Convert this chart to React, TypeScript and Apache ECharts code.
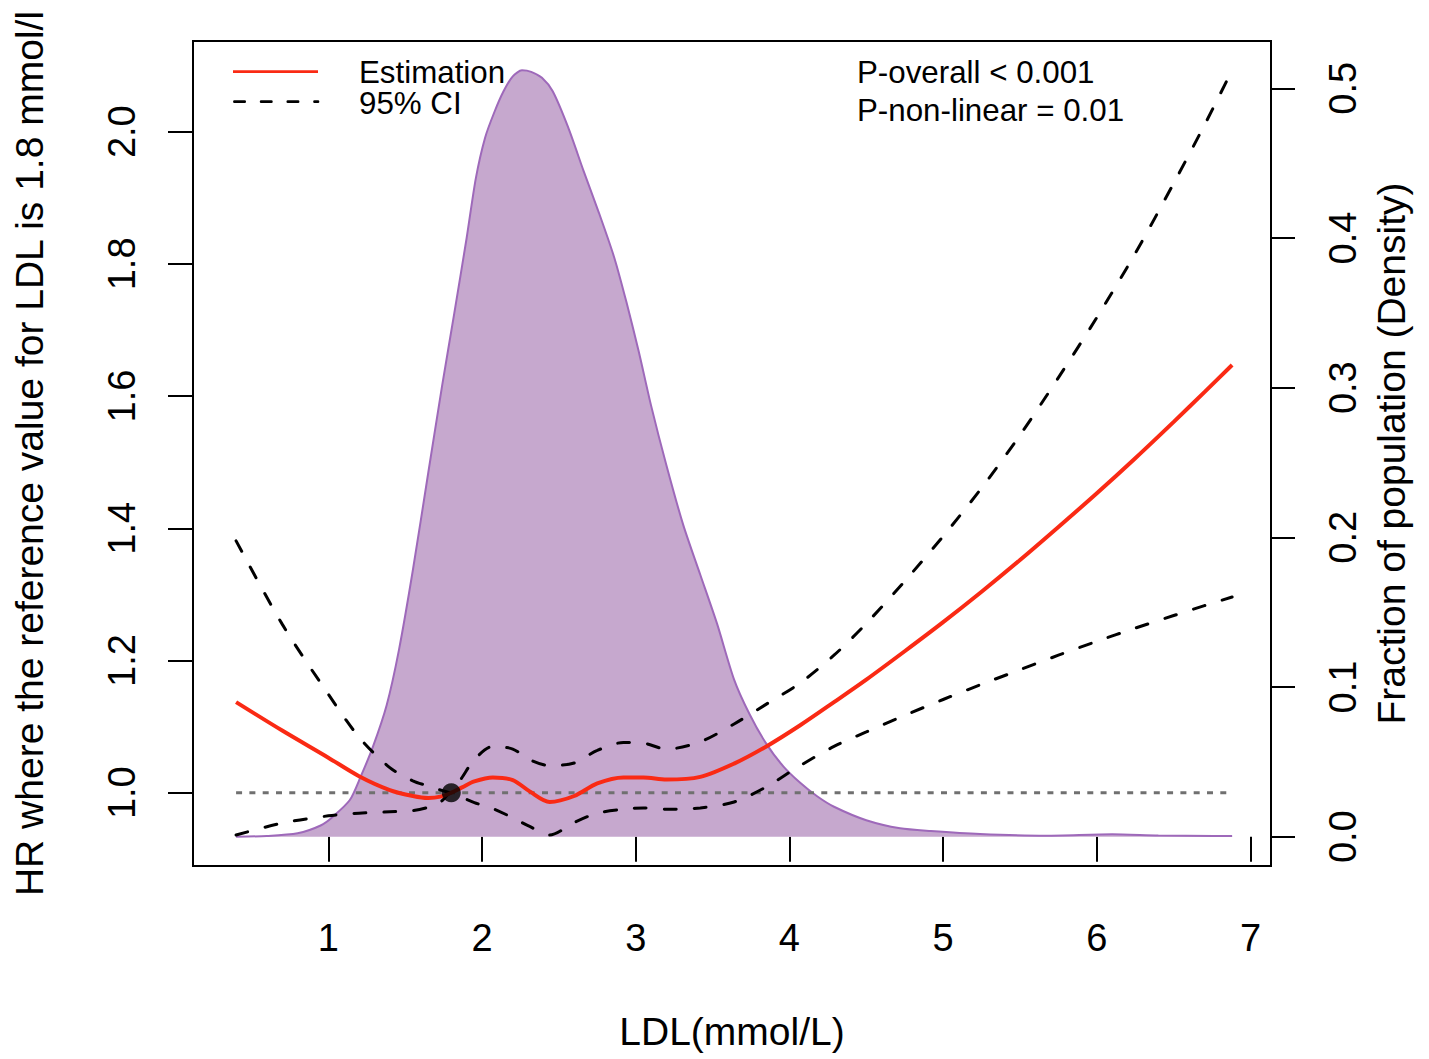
import React, { useEffect, useRef } from "react";
import * as echarts from "echarts";

// ---- data ----
const LDL = [0.4, 0.7, 1.0, 1.2, 1.4, 1.55, 1.65, 1.73, 1.8, 1.87, 1.95, 2.07, 2.2, 2.31, 2.44, 2.6, 2.75, 2.92, 3.05, 3.2, 3.42, 3.64, 3.85, 4.07, 4.29, 4.5, 4.75, 5.0, 5.25, 5.5, 5.75, 6.0, 6.25, 6.5, 6.7, 6.88];
const HR_EST = [1.137, 1.094, 1.053, 1.025, 1.004, 0.995, 0.992, 0.994, 1.0, 1.008, 1.017, 1.023, 1.019, 1.002, 0.986, 0.995, 1.014, 1.023, 1.023, 1.020, 1.024, 1.044, 1.070, 1.102, 1.137, 1.171, 1.214, 1.258, 1.304, 1.352, 1.402, 1.453, 1.506, 1.561, 1.606, 1.647];
const HR_LOWER = [0.936, 0.954, 0.965, 0.969, 0.971, 0.973, 0.978, 0.986, 1.0, 0.993, 0.985, 0.976, 0.962, 0.949, 0.936, 0.955, 0.969, 0.975, 0.977, 0.975, 0.977, 0.986, 1.009, 1.041, 1.070, 1.092, 1.117, 1.141, 1.164, 1.186, 1.208, 1.229, 1.249, 1.268, 1.283, 1.296];
const HR_UPPER = [1.381, 1.255, 1.149, 1.084, 1.038, 1.018, 1.010, 1.004, 1.0, 1.023, 1.050, 1.070, 1.066, 1.050, 1.041, 1.045, 1.064, 1.076, 1.075, 1.066, 1.077, 1.104, 1.134, 1.166, 1.208, 1.256, 1.320, 1.388, 1.461, 1.541, 1.628, 1.719, 1.816, 1.922, 2.010, 2.093];

const DENS_X = [0.4, 0.6, 0.8, 0.95, 1.03, 1.14, 1.21, 1.29, 1.38, 1.46, 1.55, 1.65, 1.74, 1.82, 1.9, 1.96, 2.02, 2.08, 2.14, 2.2, 2.26, 2.32, 2.39, 2.46, 2.56, 2.66, 2.76, 2.86, 2.94, 3.02, 3.1, 3.2, 3.31, 3.42, 3.53, 3.64, 3.74, 3.85, 3.96, 4.07, 4.18, 4.29, 4.5, 4.72, 4.92, 5.24, 5.67, 6.1, 6.4, 6.76, 6.88];
const DENS_Y = [0.0, 0.0005, 0.0023, 0.0075, 0.0134, 0.0245, 0.04, 0.06, 0.088, 0.125, 0.178, 0.243, 0.301, 0.35, 0.4, 0.44, 0.467, 0.484, 0.498, 0.508, 0.512, 0.511, 0.507, 0.498, 0.474, 0.445, 0.417, 0.387, 0.357, 0.324, 0.288, 0.248, 0.208, 0.175, 0.142, 0.105, 0.082, 0.062, 0.047, 0.036, 0.027, 0.02, 0.011, 0.0056, 0.0038, 0.0018, 0.0007, 0.0016, 0.0008, 0.0005, 0.0005];

const REF_LDL = 1.8;
const REF_HR = 1.0;
const REF_LINE_X = [0.4, 6.88];

const X_TICKS = [1, 2, 3, 4, 5, 6, 7];
const HR_TICKS = [1.0, 1.2, 1.4, 1.6, 1.8, 2.0];
const DENS_TICKS = [0.0, 0.1, 0.2, 0.3, 0.4, 0.5];

const LEGEND_LABELS = ["Estimation", "95% CI"];
const P_TEXTS = ["P-overall < 0.001", "P-non-linear = 0.01"];

const FONT = "'Liberation Sans', Arial, Helvetica, sans-serif";
const RED = "#FA2A14";

export default function App() {
  const ref = useRef<HTMLDivElement>(null);
  useEffect(() => {
    document.body.style.margin = "0";
    const chart = echarts.init(ref.current!, null, { renderer: "svg" });
    const zip = (xs: number[], ys: number[]) => xs.map((x, i) => [x, ys[i]]);
    const tickStyle = { color: "#000", width: 2 };
    const tickLabel = { fontSize: 38, color: "#000", fontFamily: FONT };
    const titleStyle = { fontSize: 39, color: "#000", fontFamily: FONT };
    const ciStyle = { color: "#000", width: 3, type: [12, 18], cap: "round" };
    const option: any = {
      animation: false,
      backgroundColor: "#fff",
      grid: {
        left: 193,
        right: 158,
        top: 41,
        bottom: 193,
        show: true,
        borderColor: "#000",
        borderWidth: 2,
        backgroundColor: "transparent",
        containLabel: false,
        outerBoundsMode: "none",
      },
      xAxis: {
        type: "value",
        min: 0.1197,
        max: 7.133,
        axisLine: { show: false },
        splitLine: { show: false },
        axisTick: { show: true, length: 25, lineStyle: tickStyle, customValues: X_TICKS },
        axisLabel: { customValues: X_TICKS, margin: 53, ...tickLabel },
        name: "LDL(mmol/L)",
        nameLocation: "middle",
        nameGap: 146,
        nameTextStyle: titleStyle,
      },
      yAxis: [
        {
          type: "value",
          position: "left",
          min: 0.8891,
          max: 2.1372,
          axisLine: { show: false },
          splitLine: { show: false },
          axisTick: { show: true, length: 25, lineStyle: tickStyle, customValues: HR_TICKS },
          axisLabel: {
            customValues: HR_TICKS,
            formatter: (v: number) => v.toFixed(1),
            rotate: 90,
            margin: 52,
            ...tickLabel,
          },
          name: "HR where the reference value for LDL is 1.8 mmol/l",
          nameLocation: "middle",
          nameRotate: 90,
          nameGap: 144.5,
          nameTextStyle: titleStyle,
        },
        {
          type: "value",
          position: "right",
          min: -0.01957,
          max: 0.5316,
          axisLine: { show: false },
          splitLine: { show: false },
          axisTick: { show: true, length: 24, lineStyle: tickStyle, customValues: DENS_TICKS },
          axisLabel: {
            customValues: DENS_TICKS,
            formatter: (v: number) => v.toFixed(1),
            rotate: 90,
            margin: 52.5,
            ...tickLabel,
          },
          name: "Fraction of population (Density)",
          nameLocation: "middle",
          nameRotate: 90,
          nameGap: 100.5,
          nameTextStyle: titleStyle,
        },
      ],
      series: [
        {
          name: "Density",
          type: "line",
          yAxisIndex: 1,
          data: zip(DENS_X, DENS_Y),
          smooth: 0.25,
          showSymbol: false,
          lineStyle: { color: "#9E69BA", width: 2 },
          areaStyle: { color: "#C6A8CE", opacity: 1 },
        },
        {
          name: "Reference",
          type: "line",
          data: REF_LINE_X.map((x) => [x, REF_HR]),
          showSymbol: false,
          lineStyle: { color: "#707070", width: 3, type: [6, 7.3] },
        },
        {
          name: "95% CI",
          type: "line",
          data: zip(LDL, HR_LOWER),
          smooth: 0.3,
          showSymbol: false,
          lineStyle: ciStyle,
        },
        {
          name: "95% CI upper",
          type: "line",
          data: zip(LDL, HR_UPPER),
          smooth: 0.3,
          showSymbol: false,
          lineStyle: ciStyle,
        },
        {
          name: "Estimation",
          type: "line",
          data: zip(LDL, HR_EST),
          smooth: 0.3,
          showSymbol: false,
          lineStyle: { color: RED, width: 4 },
        },
        {
          name: "Reference point",
          type: "scatter",
          data: [[REF_LDL, REF_HR]],
          symbol: "circle",
          symbolSize: 19,
          itemStyle: { color: "#000" },
          z: 5,
        },
      ],
      graphic: [
        {
          type: "line",
          shape: { x1: 233, y1: 71.7, x2: 318, y2: 71.7 },
          style: { stroke: RED, lineWidth: 2.7 },
        },
        {
          type: "line",
          shape: { x1: 234.4, y1: 101.7, x2: 318, y2: 101.7 },
          style: { stroke: "#000", lineWidth: 2.7, lineDash: [10.3, 16.4], lineCap: "round" },
        },
        {
          type: "text",
          x: 359,
          y: 72.3,
          style: { text: LEGEND_LABELS[0], fontSize: 31.3, fill: "#000", fontFamily: FONT, align: "left", verticalAlign: "middle" },
        },
        {
          type: "text",
          x: 359,
          y: 103.3,
          style: { text: LEGEND_LABELS[1], fontSize: 31.3, fill: "#000", fontFamily: FONT, align: "left", verticalAlign: "middle" },
        },
        {
          type: "text",
          x: 857,
          y: 72.2,
          style: { text: P_TEXTS[0], fontSize: 31.3, fill: "#000", fontFamily: FONT, align: "left", verticalAlign: "middle" },
        },
        {
          type: "text",
          x: 857,
          y: 110.8,
          style: { text: P_TEXTS[1], fontSize: 31.3, fill: "#000", fontFamily: FONT, align: "left", verticalAlign: "middle" },
        },
      ],
    };
    chart.setOption(option);
    return () => chart.dispose();
  }, []);
  return (
    <div
      ref={ref}
      style={{ position: "fixed", left: 0, top: 0, width: 1429, height: 1059, background: "#fff" }}
    />
  );
}
